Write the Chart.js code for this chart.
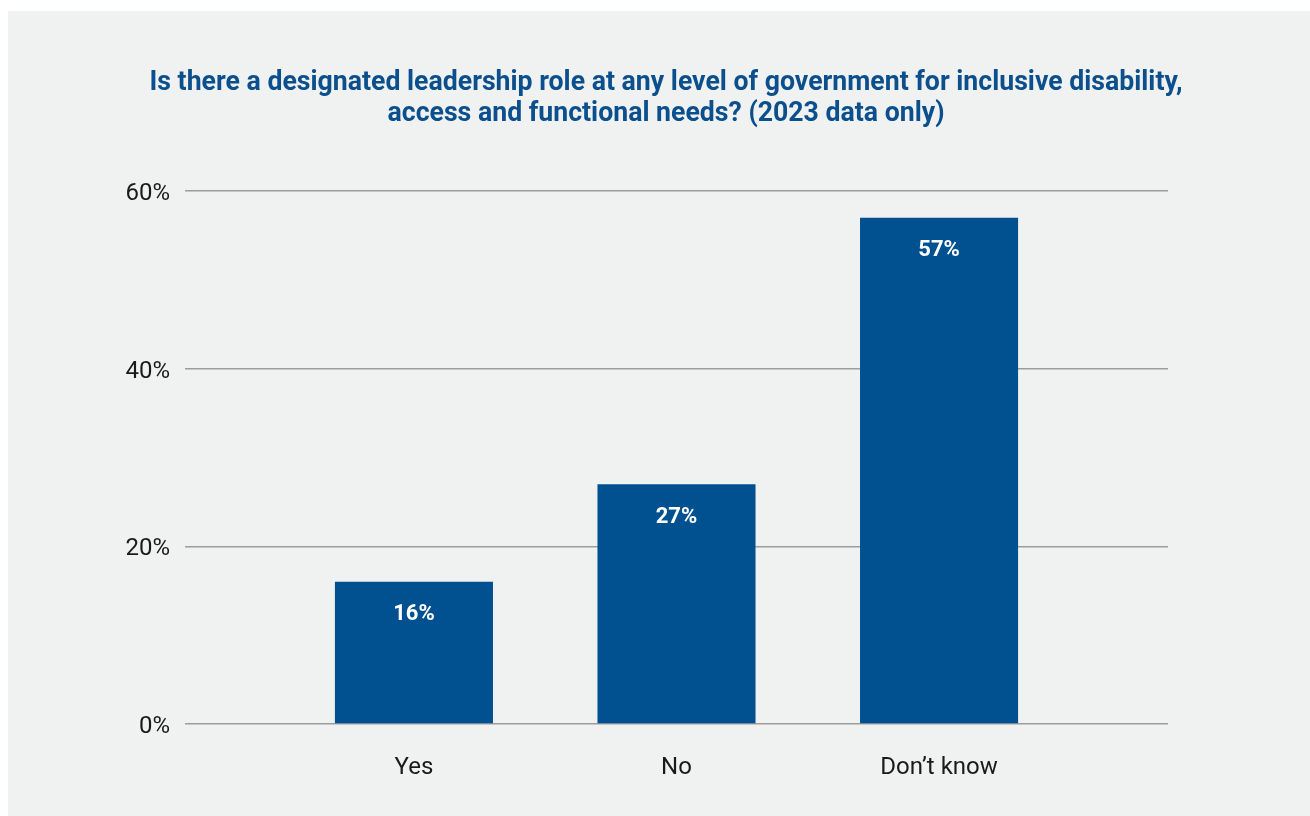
<!DOCTYPE html>
<html>
<head>
<meta charset="utf-8">
<script src="https://cdn.jsdelivr.net/npm/chart.js@4/dist/chart.umd.min.js"></script>
<style>
  html, body { margin: 0; padding: 0; background: #ffffff; }
  #panel { position: absolute; left: 8px; top: 11px; width: 1302px; height: 805px; background: #f0f2f2; }
  canvas { display: block; }
</style>
</head>
<body>
<div id="panel"><canvas id="c" width="1302" height="805"></canvas></div>
<script>
const titleLines = [
  "Is there a designated leadership role at any level of government for inclusive disability,",
  "access and functional needs? (2023 data only)"
];
const categories = ["Yes", "No", "Don\u2019t know"];
const values = [16, 27, 57];
const yTicks = [0, 20, 40, 60];

const BAR_COLOR = "#01508f";
const TITLE_COLOR = "#0b4f8d";

const titlePlugin = {
  id: "titleDraw",
  afterDraw(chart) {
    const ctx = chart.ctx;
    ctx.save();
    ctx.font = "bold 27px Roboto";
    ctx.fillStyle = TITLE_COLOR;
    ctx.textAlign = "center";
    ctx.textBaseline = "alphabetic";
    const w0 = ctx.measureText(titleLines[0]).width;
    const sx = 1033 / w0;
    const cx = 658;
    const baselines = [79, 110];
    titleLines.forEach((line, i) => {
      ctx.save();
      ctx.translate(cx, baselines[i]);
      ctx.scale(sx, 1);
      ctx.fillText(line, 0, 0);
      ctx.restore();
    });
    ctx.restore();
  }
};

const labelPlugin = {
  id: "barLabels",
  afterDatasetsDraw(chart) {
    const ctx = chart.ctx;
    const meta = chart.getDatasetMeta(0);
    ctx.save();
    ctx.font = "bold 22px Roboto";
    ctx.fillStyle = "#ffffff";
    ctx.textAlign = "center";
    ctx.textBaseline = "middle";
    meta.data.forEach((bar, i) => {
      ctx.fillText(values[i] + "%", bar.x, bar.y + 33);
    });
    ctx.restore();
  }
};

new Chart(document.getElementById("c"), {
  type: "bar",
  data: {
    datasets: [{
      data: values.map((v, i) => ({ x: i, y: v })),
      backgroundColor: BAR_COLOR,
      borderWidth: 0,
      categoryPercentage: 1,
      barPercentage: 0.602
    }]
  },
  options: {
    responsive: false,
    animation: false,
    events: [],
    layout: { padding: { top: 180, right: 142, bottom: 0, left: 0 } },
    plugins: { legend: { display: false }, tooltip: { enabled: false }, title: { display: false } },
    scales: {
      x: {
        type: "linear",
        min: -0.872,
        max: 2.872,
        offset: false,
        grid: { display: false, offset: false },
        border: { display: false },
        afterBuildTicks(scale) { scale.ticks = categories.map((c, i) => ({ value: i })); },
        afterFit(scale) { scale.height = 92; },
        ticks: {
          padding: 22,
          color: "#1a1a1a",
          font: { family: "Roboto", size: 24 },
          maxRotation: 0,
          autoSkip: false,
          callback: (v) => categories[v]
        }
      },
      y: {
        min: 0,
        max: 60,
        afterBuildTicks(scale) { scale.ticks = yTicks.map(v => ({ value: v })); },
        afterFit(scale) { scale.width = 177; },
        grid: { color: "#9c9c9c", lineWidth: 1.5, drawTicks: false },
        border: { display: false },
        ticks: {
          padding: 15,
          color: "#1a1a1a",
          font: { family: "Roboto", size: 24, lineHeight: 0.25 },
          callback: (v) => ["", v + "%"]
        }
      }
    }
  },
  plugins: [titlePlugin, labelPlugin]
});
</script>
</body>
</html>
